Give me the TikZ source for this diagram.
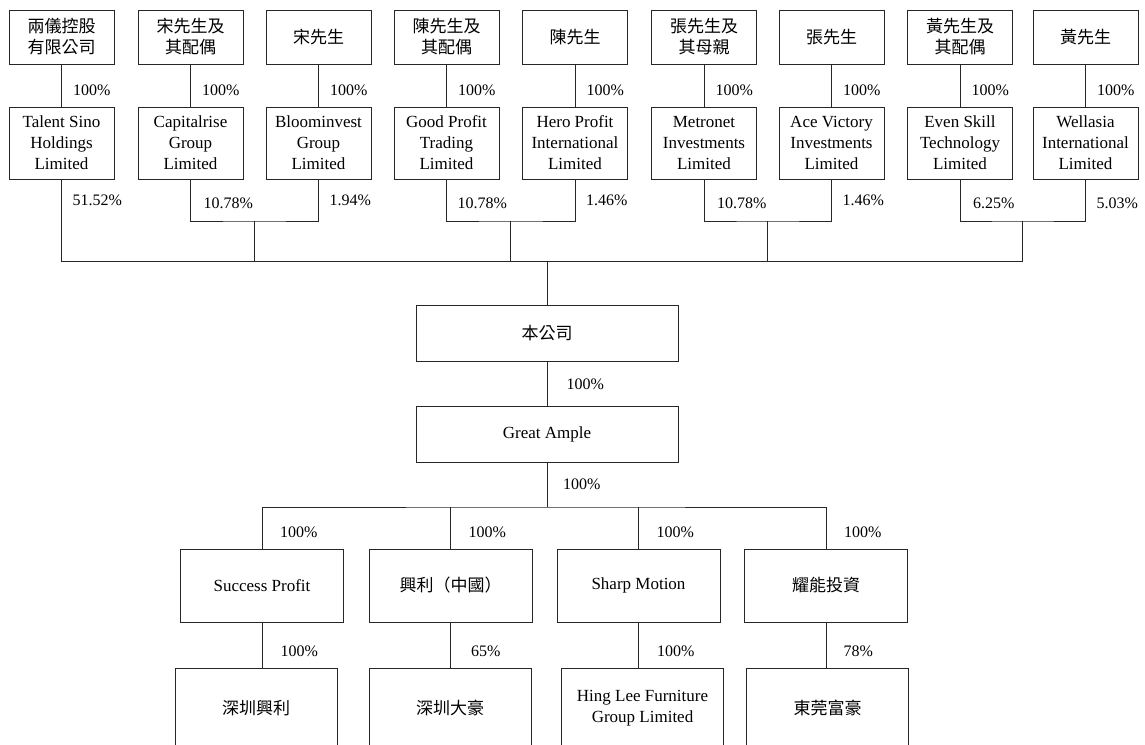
\documentclass[tikz,border=0pt]{standalone}
\usepackage{fontspec}
\setmainfont{Liberation Serif}
\newfontfamily\cjk{Noto Sans CJK TC}
\usepackage{tikz}
\usetikzlibrary{calc}

\tikzset{
	chart/.style={line width=1pt, draw=black!85},
	boxed/.style={chart, draw, align=center, inner sep=0pt, font=\fontsize{17}{21}\selectfont},
	owner/.style={boxed, minimum width=105pt, minimum height=54pt},
	holder/.style={boxed, minimum width=105pt, minimum height=72pt},
	wide/.style={boxed, minimum width=262pt, minimum height=56pt},
	sub/.style={boxed, minimum width=163pt, minimum height=73pt},
	pct/.style={anchor=west, inner sep=0pt}
}

\begin{document}
\begin{tikzpicture}[x=1pt, y=-1pt, font=\fontsize{16}{21}\selectfont]
			\useasboundingbox (0,0) rectangle (1145,744);
			\clip (0,0) rectangle (1145,744);
			
			% owners
			\node[owner] (o1) at (61.5,37) {\cjk 兩儀控股\\\cjk 有限公司};
			\node[owner] (o2) at (190.5,37) {\cjk 宋先生及\\\cjk 其配偶};
			\node[owner] (o3) at (318.5,37) {\cjk 宋先生};
			\node[owner] (o4) at (446.5,37) {\cjk 陳先生及\\\cjk 其配偶};
			\node[owner] (o5) at (575,37) {\cjk 陳先生};
			\node[owner] (o6) at (704,37) {\cjk 張先生及\\\cjk 其母親};
			\node[owner] (o7) at (831.5,37) {\cjk 張先生};
			\node[owner] (o8) at (960,37) {\cjk 黃先生及\\\cjk 其配偶};
			\node[owner] (o9) at (1085.5,37) {\cjk 黃先生};
			
			% holding companies
			\node[holder] (h1) at (61.5,143) {Talent Sino\\Holdings\\Limited};
			\node[holder] (h2) at (190.5,143) {Capitalrise\\Group\\Limited};
			\node[holder] (h3) at (318.5,143) {Bloominvest\\Group\\Limited};
			\node[holder] (h4) at (446.5,143) {Good Profit\\Trading\\Limited};
			\node[holder] (h5) at (575,143) {Hero Profit\\International\\Limited};
			\node[holder] (h6) at (704,143) {Metronet\\Investments\\Limited};
			\node[holder] (h7) at (831.5,143) {Ace Victory\\Investments\\Limited};
			\node[holder] (h8) at (960,143) {Even Skill\\Technology\\Limited};
			\node[holder] (h9) at (1085.5,143) {Wellasia\\International\\Limited};
			
			\draw[chart] (o1) -- (h1) node[pct, midway, xshift=11pt, yshift=-4.5pt] {100\%};
			\draw[chart] (o2) -- (h2) node[pct, midway, xshift=11pt, yshift=-4.5pt] {100\%};
			\draw[chart] (o3) -- (h3) node[pct, midway, xshift=11pt, yshift=-4.5pt] {100\%};
			\draw[chart] (o4) -- (h4) node[pct, midway, xshift=11pt, yshift=-4.5pt] {100\%};
			\draw[chart] (o5) -- (h5) node[pct, midway, xshift=11pt, yshift=-4.5pt] {100\%};
			\draw[chart] (o6) -- (h6) node[pct, midway, xshift=11pt, yshift=-4.5pt] {100\%};
			\draw[chart] (o7) -- (h7) node[pct, midway, xshift=11pt, yshift=-4.5pt] {100\%};
			\draw[chart] (o8) -- (h8) node[pct, midway, xshift=11pt, yshift=-4.5pt] {100\%};
			\draw[chart] (o9) -- (h9) node[pct, midway, xshift=11pt, yshift=-4.5pt] {100\%};
			
			% stakes in the company
			\node[pct] (s1) at ([xshift=11pt, yshift=-21pt]h1.south) {51.52\%};
			\node[pct] (s2) at ([xshift=13pt, yshift=-24pt]h2.south) {10.78\%};
			\node[pct] (s3) at ([xshift=11pt, yshift=-21pt]h3.south) {1.94\%};
			\node[pct] (s4) at ([xshift=11pt, yshift=-24pt]h4.south) {10.78\%};
			\node[pct] (s5) at ([xshift=11pt, yshift=-21pt]h5.south) {1.46\%};
			\node[pct] (s6) at ([xshift=13pt, yshift=-24pt]h6.south) {10.78\%};
			\node[pct] (s7) at ([xshift=11pt, yshift=-21pt]h7.south) {1.46\%};
			\node[pct] (s8) at ([xshift=13pt, yshift=-24pt]h8.south) {6.25\%};
			\node[pct] (s9) at ([xshift=11pt, yshift=-24pt]h9.south) {5.03\%};
			
			\coordinate (j23) at (254.5,221);
			\coordinate (j45) at (510.75,221);
			\coordinate (j67) at (767.75,221);
			\coordinate (j89) at (1022.75,221);
			\coordinate (bus) at (547,261);
			
			\node[wide] (co) at (547,333) {\cjk 本公司};
			\node[wide] (ga) at (547,434) {Great Ample};
			
			\draw[chart] (h2.south) |- (j23) -| (h3.south);
			\draw[chart] (h4.south) |- (j45) -| (h5.south);
			\draw[chart] (h6.south) |- (j67) -| (h7.south);
			\draw[chart] (h8.south) |- (j89) -| (h9.south);
			\draw[chart] (h1.south) |- (j89 |- bus) -- (j89);
			\draw[chart] (j23) -- (j23 |- bus);
			\draw[chart] (j45) -- (j45 |- bus);
			\draw[chart] (j67) -- (j67 |- bus);
			\draw[chart] (bus) -- (co.north);
			
			\draw[chart] (co) -- (ga) node[pct, midway, xshift=19pt, yshift=-1pt] {100\%};
			
			% subsidiaries
			\node[sub] (p1) at (262,585.5) {Success Profit};
			\node[sub] (p2) at (450.5,585.5) {\cjk 興利（中國）};
			\node[sub] (p3) at (638.5,585.5) {Sharp Motion};
			\node[sub] (p4) at (826,585.5) {\cjk 耀能投資};
			
			\coordinate (fork) at (547,507);
			\draw[chart] (ga.south) -- (fork);
			\node[pct] (g0) at ([xshift=16pt, yshift=-22pt]ga.south) {100\%};
			\draw[chart] (p1.north) |- (fork) -| (p4.north);
			\draw[chart] (p2.north) -- (p2.north |- fork);
			\draw[chart] (p3.north) -- (p3.north |- fork);
			\node[pct] (g1) at ([xshift=18pt, yshift=16pt]p1.north) {100\%};
			\node[pct] (g2) at ([xshift=18pt, yshift=16pt]p2.north) {100\%};
			\node[pct] (g3) at ([xshift=18pt, yshift=16pt]p3.north) {100\%};
			\node[pct] (g4) at ([xshift=18pt, yshift=16pt]p4.north) {100\%};
			
			% operating companies
			\node[sub, minimum height=80pt, minimum width=162pt] (q1) at (256,708) {\cjk 深圳興利};
			\node[sub, minimum height=80pt, minimum width=162pt] (q2) at (450,708) {\cjk 深圳大豪};
			\node[sub, minimum height=80pt, minimum width=162pt] (q3) at (642.5,708) {Hing Lee Furniture\\Group Limited};
			\node[sub, minimum height=80pt, minimum width=162pt] (q4) at (827.5,708) {\cjk 東莞富豪};
			
			\draw[chart] (p1.south) -- (p1.south |- q1.north) node[pct, midway, xshift=18pt, yshift=-6pt] {100\%};
			\draw[chart] (p2.south) -- (p2.south |- q2.north) node[pct, midway, xshift=20pt, yshift=-6pt] {65\%};
			\draw[chart] (p3.south) -- (p3.south |- q3.north) node[pct, midway, xshift=18pt, yshift=-6pt] {100\%};
			\draw[chart] (p4.south) -- (p4.south |- q4.north) node[pct, midway, xshift=17pt, yshift=-6pt] {78\%};
		\end{tikzpicture}
\end{document}
